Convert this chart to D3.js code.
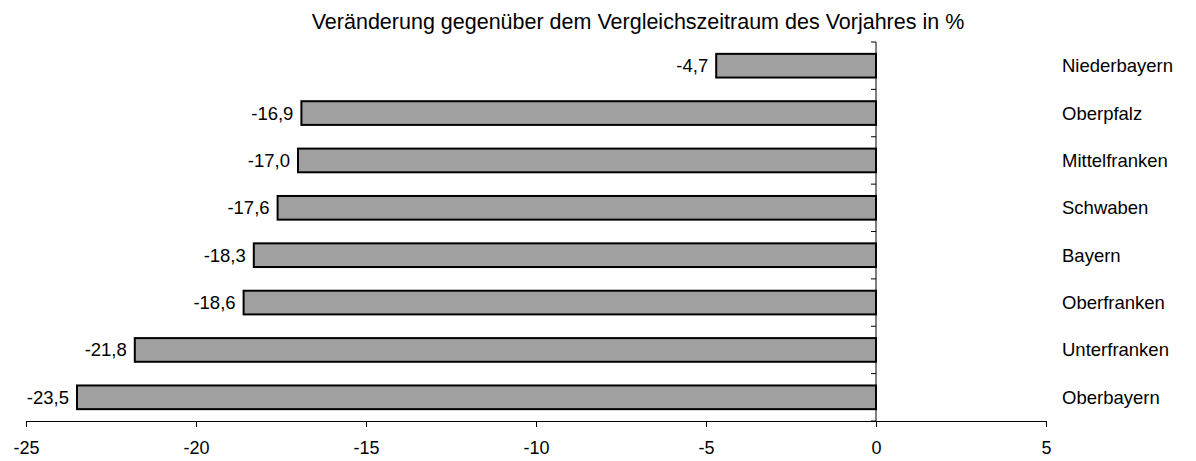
<!DOCTYPE html>
<html>
<head>
<meta charset="utf-8">
<script src="https://cdn.jsdelivr.net/npm/d3@7"></script>
<style>
  body { margin: 0; background: #fff; }
  text { font-family: "Liberation Sans", Arial, sans-serif; }
</style>
</head>
<body>
<svg id="chart" width="1196" height="461"></svg>
<script>
// data
const regions = ["Niederbayern", "Oberpfalz", "Mittelfranken", "Schwaben", "Bayern", "Oberfranken", "Unterfranken", "Oberbayern"];
const changes = [-4.7, -16.9, -17.0, -17.6, -18.3, -18.6, -21.8, -23.5];
const xTicks = [-25, -20, -15, -10, -5, 0, 5];
const title = "Veränderung gegenüber dem Vergleichszeitraum des Vorjahres in %";

const data = regions.map((r, i) => ({ region: r, value: changes[i] }));

const svg = d3.select("#chart");

// margins
const plotTop = 42;
const plotBottom = 421;
const plotLeft = 26;
const plotRight = 1046;

const x = d3.scaleLinear()
  .domain([-25, 5])
  .range([plotLeft, plotRight]);

const y = d3.scaleBand()
  .domain(regions)
  .range([plotTop, plotBottom])
  .paddingInner(0.5)
  .paddingOuter(0.25);

// bars
svg.selectAll(".bar")
  .data(data)
  .enter()
  .append("rect")
    .attr("x", d => x(d.value))
    .attr("y", d => y(d.region))
    .attr("width", d => x(0) - x(d.value))
    .attr("height", y.bandwidth())
    .attr("fill", "#a0a0a0")
    .attr("stroke", "#000")
    .attr("stroke-width", 2);

// vertical axis at 0 with ticks between categories
const step = (plotBottom - plotTop) / regions.length;
svg.append("line")
  .attr("x1", x(0)).attr("x2", x(0))
  .attr("y1", plotTop).attr("y2", plotBottom)
  .attr("stroke", "#000");

svg.selectAll(".ytick")
  .data(d3.range(regions.length + 1))
  .enter()
  .append("line")
    .attr("x1", x(0) - 5).attr("x2", x(0))
    .attr("y1", i => plotTop + i * step)
    .attr("y2", i => plotTop + i * step)
    .attr("stroke", "#000");

// x axis
const xAxis = svg.append("g")
  .attr("transform", `translate(0, ${plotBottom})`)
  .call(d3.axisBottom(x)
    .tickValues(xTicks)
    .tickSize(6)
    .tickPadding(14)
    .tickFormat(d => d));

xAxis.select(".domain").attr("stroke", "#000");
xAxis.selectAll(".tick line").attr("stroke", "#000");
xAxis.selectAll(".tick text")
  .style("font-size", "18px")
  .attr("fill", "#000")
  .style("font-family", "'Liberation Sans', Arial, sans-serif");

// value labels
svg.selectAll(".val")
  .data(data)
  .enter()
  .append("text")
    .attr("x", d => x(d.value) - 8)
    .attr("y", d => y(d.region) + y.bandwidth() / 2)
    .attr("dy", "0.35em")
    .attr("text-anchor", "end")
    .style("font-size", "18.5px")
    .text(d => d.value.toFixed(1).replace(".", ","));

// category labels
svg.selectAll(".cat")
  .data(data)
  .enter()
  .append("text")
    .attr("x", 1062)
    .attr("y", d => y(d.region) + y.bandwidth() / 2)
    .attr("dy", "0.35em")
    .style("font-size", "18.5px")
    .text(d => d.region);

// title
svg.append("text")
  .attr("x", 638)
  .attr("y", 29)
  .attr("text-anchor", "middle")
  .style("font-size", "21.5px")
  .text(title);
</script>
</body>
</html>
